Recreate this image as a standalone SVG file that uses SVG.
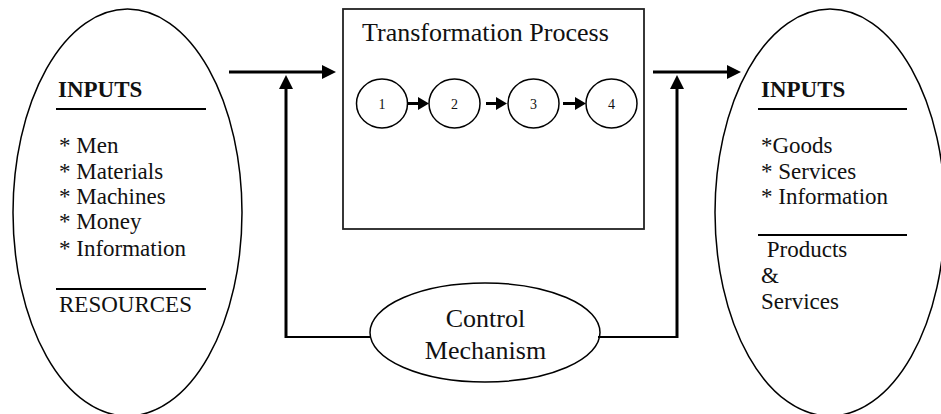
<svg xmlns="http://www.w3.org/2000/svg" width="941" height="414" viewBox="0 0 941 414">
<style>
  .serif { font-family: "Liberation Serif", "Times New Roman", serif; fill: #111; }
  .big { font-size: 26px; }
  .item { font-size: 23px; }
  .head { font-size: 23px; font-weight: bold; }
  .num { font-size: 14px; text-anchor: middle; }
  .shape { fill: #fff; stroke: #000; stroke-width: 1.5; }
  .rule { stroke: #000; stroke-width: 2; }
  .thick { stroke: #000; stroke-width: 3; fill: none; }
  .thin { stroke: #000; stroke-width: 2; fill: none; }
</style>
<defs>
  <marker id="ah" viewBox="0 0 14 14" refX="2" refY="7" markerWidth="14" markerHeight="14" markerUnits="userSpaceOnUse" orient="auto">
    <path d="M0,0 L14,7 L0,14 z" fill="#000"/>
  </marker>
  <marker id="ahs" viewBox="0 0 11 13" refX="2" refY="6.5" markerWidth="11" markerHeight="13" markerUnits="userSpaceOnUse" orient="auto">
    <path d="M0,0 L11,6.5 L0,13 z" fill="#000"/>
  </marker>
</defs>

<g id="inputs">
  <ellipse class="shape" cx="127.5" cy="212.5" rx="114.5" ry="203.5"/>
  <text class="serif head" x="58" y="97">INPUTS</text>
  <line class="rule" x1="56" y1="109" x2="206" y2="109"/>
  <text class="serif item" x="59" y="153">* Men</text>
  <text class="serif item" x="59" y="179">* Materials</text>
  <text class="serif item" x="59" y="204">* Machines</text>
  <text class="serif item" x="59" y="229">* Money</text>
  <text class="serif item" x="59" y="256">* Information</text>
  <line class="rule" x1="56" y1="289" x2="206" y2="289"/>
  <text class="serif item" x="59" y="312">RESOURCES</text>
</g>

<g id="transformation">
  <rect x="343" y="9" width="301" height="220" fill="#fff" stroke="#222" stroke-width="1.8"/>
  <text class="serif big" x="362" y="41">Transformation Process</text>
</g>

<g id="step1">
  <ellipse class="shape" cx="382" cy="103.5" rx="25.5" ry="24.5"/>
  <text class="serif num" x="382" y="108.5">1</text>
</g>
<g id="step2">
  <ellipse class="shape" cx="454.5" cy="103.5" rx="25.5" ry="24.5"/>
  <text class="serif num" x="454.5" y="108.5">2</text>
</g>
<g id="step3">
  <ellipse class="shape" cx="533.5" cy="103.5" rx="25.5" ry="24.5"/>
  <text class="serif num" x="533.5" y="108.5">3</text>
</g>
<g id="step4">
  <ellipse class="shape" cx="611.5" cy="103.5" rx="25.5" ry="24.5"/>
  <text class="serif num" x="611.5" y="108.5">4</text>
</g>

<g id="outputs">
  <ellipse class="shape" cx="830" cy="212.5" rx="115" ry="203.5"/>
  <text class="serif head" x="761" y="97">INPUTS</text>
  <line class="rule" x1="758" y1="109" x2="907" y2="109"/>
  <text class="serif item" x="761" y="153">*Goods</text>
  <text class="serif item" x="761" y="179">* Services</text>
  <text class="serif item" x="761" y="204">* Information</text>
  <line class="rule" x1="758" y1="235" x2="907" y2="235"/>
  <text class="serif item" x="761" y="257" xml:space="preserve"> Products</text>
  <text class="serif item" x="761" y="283">&amp;</text>
  <text class="serif item" x="761" y="309">Services</text>
</g>

<g id="control">
  <ellipse class="shape" cx="485" cy="332.5" rx="115" ry="49.5"/>
  <text class="serif big" x="485.5" y="327" text-anchor="middle">Control</text>
  <text class="serif big" x="485.5" y="359" text-anchor="middle">Mechanism</text>
</g>

<g id="connectors">
  <line class="thick" x1="229" y1="72" x2="324" y2="72" marker-end="url(#ah)"/>
  <polyline class="thin" points="370,337 286,337"/>
  <line class="thick" x1="286" y1="338" x2="286" y2="87" marker-end="url(#ah)"/>
  <line class="thick" x1="653" y1="72" x2="729" y2="72" marker-end="url(#ah)"/>
  <polyline class="thin" points="598,337 677,337"/>
  <line class="thick" x1="677" y1="338" x2="677" y2="87" marker-end="url(#ah)"/>
  <line class="thick" x1="407" y1="103.5" x2="420" y2="103.5" marker-end="url(#ahs)"/>
  <line class="thick" x1="486" y1="103.5" x2="498" y2="103.5" marker-end="url(#ahs)"/>
  <line class="thick" x1="563" y1="103.5" x2="577" y2="103.5" marker-end="url(#ahs)"/>
</g>
</svg>
